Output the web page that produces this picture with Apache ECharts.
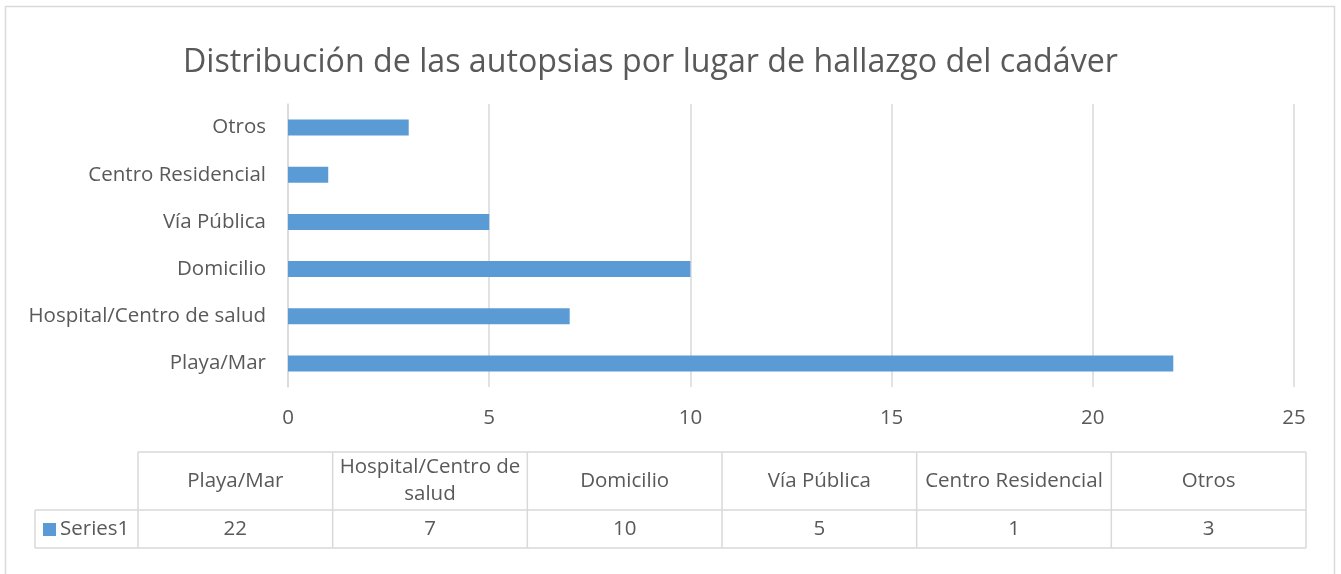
<!DOCTYPE html>
<html>
<head>
<meta charset="utf-8">
<script type="text/javascript" src="https://cdn.jsdelivr.net/npm/echarts@6/dist/echarts.min.js"></script>
<style>
  html, body { margin: 0; padding: 0; background: #fff; }
</style>
</head>
<body>
<div id="main" style="width:1341px;height:574px"></div>
<script type="text/javascript">
// datos del grafico
var lugares = ['Playa/Mar', 'Hospital/Centro de salud', 'Domicilio', 'Vía Pública', 'Centro Residencial', 'Otros'];
var autopsias = [22, 7, 10, 5, 1, 3];
var serieNombre = 'Series1';
var ticksX = [0, 5, 10, 15, 20, 25];
// cabeceras de la tabla (con salto de linea como en el original)
var cabeceras = ['Playa/Mar', 'Hospital/Centro de\nsalud', 'Domicilio', 'Vía Pública', 'Centro Residencial', 'Otros'];

var fuente = 'Open Sans';
var gris = '#595959';
var linea = '#D9D9D9';
var azul = '#5B9BD5';
var tam = 20.5;

var myChart = echarts.init(document.getElementById('main'));

// tabla de datos debajo del grafico
var tabla = [];
var t0 = 138, t1 = 1306, yTop = 452, yMid = 510, yBot = 548;
var ancho = (t1 - t0) / lugares.length;
// marco exterior
tabla.push({ type: 'rect', shape: { x: 5.5, y: 6.5, width: 1329, height: 600 },
  style: { fill: 'none', stroke: linea, lineWidth: 1.5 } });
// lineas horizontales
tabla.push({ type: 'line', shape: { x1: t0, y1: yTop, x2: t1, y2: yTop }, style: { stroke: linea, lineWidth: 1.5 } });
tabla.push({ type: 'line', shape: { x1: 35, y1: yMid, x2: t1, y2: yMid }, style: { stroke: linea, lineWidth: 1.5 } });
tabla.push({ type: 'line', shape: { x1: 35, y1: yBot, x2: t1, y2: yBot }, style: { stroke: linea, lineWidth: 1.5 } });
tabla.push({ type: 'line', shape: { x1: 35, y1: yMid, x2: 35, y2: yBot }, style: { stroke: linea, lineWidth: 1.5 } });
for (var i = 0; i <= lugares.length; i++) {
  var x = t0 + i * ancho;
  tabla.push({ type: 'line', shape: { x1: x, y1: yTop, x2: x, y2: yBot }, style: { stroke: linea, lineWidth: 1.5 } });
}
for (var i = 0; i < lugares.length; i++) {
  var cx = t0 + (i + 0.5) * ancho;
  tabla.push({ type: 'text', x: cx, y: (yTop + yMid) / 2,
    style: { text: cabeceras[i], font: tam + 'px "' + fuente + '"', fill: gris, align: 'center', verticalAlign: 'middle', lineHeight: 27 } });
  tabla.push({ type: 'text', x: cx, y: (yMid + yBot) / 2,
    style: { text: String(autopsias[i]), font: tam + 'px "' + fuente + '"', fill: gris, align: 'center', verticalAlign: 'middle' } });
}
// clave de la serie
tabla.push({ type: 'rect', shape: { x: 43, y: 523, width: 13, height: 13 }, style: { fill: azul } });
tabla.push({ type: 'text', x: 60, y: (yMid + yBot) / 2,
  style: { text: serieNombre, font: tam + 'px "' + fuente + '"', fill: gris, align: 'left', verticalAlign: 'middle' } });

var option = {
  animation: false,
  backgroundColor: '#fff',
  title: {
    text: 'Distribución de las autopsias por lugar de hallazgo del cadáver',
    left: 178,
    top: 42,
    textStyle: { fontFamily: fuente, fontSize: 32.2, fontWeight: 'normal', color: gris }
  },
  grid: { left: 288, right: 47, top: 104, bottom: 187 },
  xAxis: {
    type: 'value',
    min: ticksX[0],
    max: ticksX[ticksX.length - 1],
    interval: ticksX[1] - ticksX[0],
    axisLine: { show: false },
    axisTick: { show: false },
    axisLabel: { fontFamily: fuente, fontSize: tam, color: gris, margin: 21 },
    splitLine: { lineStyle: { color: linea, width: 1.5 } }
  },
  yAxis: {
    type: 'category',
    data: lugares,
    axisLine: { lineStyle: { color: linea, width: 1.5 } },
    axisTick: { show: false },
    axisLabel: { fontFamily: fuente, fontSize: tam, color: gris, margin: 22 }
  },
  series: [{
    name: serieNombre,
    type: 'bar',
    data: autopsias,
    barWidth: 16,
    itemStyle: { color: azul }
  }],
  graphic: tabla
};
myChart.setOption(option);
</script>
</body>
</html>
